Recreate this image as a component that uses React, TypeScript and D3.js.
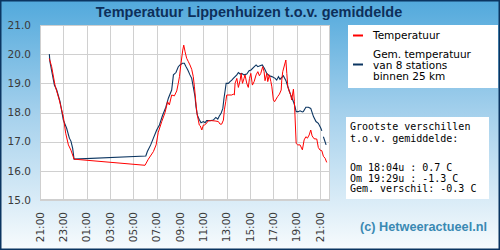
import React, { useEffect, useRef } from 'react';
import * as d3 from 'd3';

// Local station temperature (clock time, °C); null marks a break in the line
const tempTimes = [
  '21:48', '22:00', '22:17', '22:39', '23:00', '23:12', '23:26', '23:39', '23:51', '23:55',
  '06:00', '06:17', '06:43', '06:57', '07:08', '07:26', '07:43', '07:56', '08:05', '08:17',
  '08:31', '08:43', '08:51', '08:57', '09:05', '09:14', '09:19', '09:26', '09:34', '09:43',
  '09:51', '10:00', '10:08', '10:14', '10:21', '10:27', '10:34', '10:39', '10:44', '10:52',
  '11:00', '11:05', '11:12', '11:26', '11:43', '12:00', '12:17', '12:26', '12:34', '12:43',
  '12:48', '12:55', '13:00', '13:26', '13:34', '13:39', '13:43', '13:52', '14:00', '14:09',
  '14:14', '14:21', '14:29', '14:34', '14:43', '14:51', '14:57', '15:04', '15:12', '15:21',
  '15:31', '15:40', '15:48', '15:55', '16:05', '16:12', '16:17', '16:26', '16:31', '16:39',
  '16:47', '16:52', '17:00', '17:06', '17:21', '17:31', '17:40', '17:43', '17:48', '18:04',
  '18:09', '18:14', '18:22', '18:29', '18:34', '18:43', '18:48', '18:57', '19:05', '19:17',
  '19:29', '19:38', '19:47', '19:55', '20:04', '20:12', '20:19', '20:29', '20:43', '20:51',
  '21:00', '21:09', '21:17', '21:26', '21:34',
];
const tempValues = [
  19.85, 19.57, 18.94, 18.43, 17.86, 17.29, 16.89, 16.71, 16.48, 16.4,
  16.19, 16.4, 16.66, 16.89, 17.32, 17.69, 18.0, 18.37, 18.26, 18.6,
  18.57, 18.74, 19.0, 19.23, 19.69, 20.14, 20.31, 20.08, 19.86, 19.74,
  19.63, 19.48, 19.23, 18.88, 18.37, 17.97, 17.74, 17.57, 17.54, 17.4,
  17.57, 17.57, 17.6, 17.72, 17.72, 17.71, 17.69, 17.6, 17.6, 17.74,
  18.09, 18.37, 18.6, 18.6, 18.63, 18.6, 19.0, 19.17, 18.86, 19.11,
  19.34, 19.0, 19.17, 19.29, 19.0, 18.86, 19.17, 19.34, 18.94, 19.06,
  19.29, 19.4, 19.26, 19.34, 19.57, 19.4, 19.09, 19.34, 19.06, 19.29,
  19.06, 18.88, 18.43, 18.37, 18.54, 18.63, 18.77, 19.11, 19.4, 19.8,
  19.34, 18.88, 18.71, 18.6, 18.43, 18.8, 18.37, 16.94, 16.89, 16.89,
  16.72, 17.06, 17.17, 17.12, 17.23, 17.4, 17.2, 17.1, 17.09, 16.8,
  16.71, 16.69, 16.5, 16.43, 16.29,
];

// Mean of 8 stations within 25 km
const meanTimes = [
  '21:48', '21:51', '22:14', '22:26', '22:43', '23:00', '23:17', '23:31', '23:39', '23:48',
  '23:55', '06:04', '06:12', '06:29', '06:43', '07:00', '07:14', '07:29', '07:47', '08:00',
  '08:17', '08:26', '08:39', '08:51', '09:00', '09:12', '09:22', '09:31', '09:40', '09:51',
  '10:00', '10:08', '10:17', '10:22', '10:29', '10:38', '10:48', '11:00', '11:09', '11:17',
  '11:34', '11:51', '12:04', '12:14', '12:22', '12:31', '12:40', '12:46', '12:51', '12:57',
  '13:08', '13:17', '13:26', '13:34', '13:52', '14:00', '14:09', '14:17', '14:29', '14:43',
  '14:55', '15:05', '15:22', '15:31', '15:40', '15:51', '16:03', '16:14', '16:26', '16:39',
  '16:52', '17:09', '17:17', '17:26', '17:34', '17:43', '17:51', '18:04', '18:17', '18:29',
  '18:43', '18:51', '18:57', '19:08', '19:17', '19:29', '19:34', '19:47', '20:00', '20:12',
  '20:26', '20:39', '20:51', '21:04', '21:09', '21:13', '21:17', '21:31',
];
const meanValues: (number | null)[] = [
  20.0, 19.74, 18.94, 18.77, 18.37, 17.74, 17.46, 17.12, 17.02, 16.77,
  16.4, 16.51, 16.66, 16.89, 17.12, 17.4, 17.57, 17.88, 18.18, 18.49,
  18.77, 19.29, 19.37, 19.57, 19.63, 19.69, 19.69, 19.57, 19.46, 19.29,
  19.17, 18.88, 18.54, 18.2, 17.91, 17.77, 17.65, 17.69, 17.65, 17.72,
  17.72, 17.74, 17.83, 17.77, 17.88, 17.97, 18.14, 18.49, 18.71, 19.0,
  19.0, 19.06, 19.11, 19.17, 19.29, 19.37, 19.32, 19.34, 19.29, 19.32,
  19.43, 19.46, 19.57, 19.63, 19.57, 19.6, 19.63, 19.51, 19.34, 19.26,
  19.23, 19.17, 19.11, 19.23, 19.14, 19.2, 19.26, 19.1, 18.83, 18.6,
  18.37, 18.2, 18.03, 18.03, 18.06, 18.02, 18.03, 18.18, 18.18, 18.14,
  17.86, 17.69, 17.63, 17.46, 17.37, null, 17.17, 16.89,
];

const yTicks = [15, 16, 17, 18, 19, 20, 21];
const xTickLabels = ['21:00', '23:00', '01:00', '03:00', '05:00', '07:00', '09:00', '11:00', '13:00', '15:00', '17:00', '19:00', '21:00'];

const legendMean = ['Gem. temperatuur', 'van 8 stations', 'binnen 25 km'];

const infoLines = [
  'Grootste verschillen',
  't.o.v. gemiddelde:',
  'Om 18:04u : 0.7 C',
  'Om 19:29u : -1.3 C',
  'Gem. verschil: -0.3 C',
];

const W = 500;
const H = 250;
const START = new Date(2024, 5, 1, 21, 0);

// turn clock times into dates, rolling over to the next day after midnight
function toDates(times: string[]): Date[] {
  let day = 0;
  let prev = -1;
  return times.map(t => {
    const [h, m] = t.split(':').map(Number);
    const mins = h * 60 + m;
    if (prev >= 0 && mins < prev) day += 1;
    prev = mins;
    return new Date(2024, 5, 1 + day, h, m);
  });
}

const App: React.FC = () => {
  const ref = useRef<SVGSVGElement>(null);

  useEffect(() => {
    const svg = d3.select(ref.current);
    svg.selectAll('*').remove();

    const m = { left: 40, top: 25, right: 330, bottom: 200 };

    const defs = svg.append('defs');
    const grad = defs.append('linearGradient')
      .attr('id', 'bg').attr('x1', 0).attr('y1', 0).attr('x2', 0).attr('y2', 1);
    grad.append('stop').attr('offset', '0%').attr('stop-color', '#52a9dc');
    grad.append('stop').attr('offset', '45%').attr('stop-color', '#a4d0ec');
    grad.append('stop').attr('offset', '100%').attr('stop-color', '#f7fbfd');

    svg.append('rect')
      .attr('x', 0.75).attr('y', 0.75).attr('width', W - 1.5).attr('height', H - 1.5)
      .attr('fill', 'url(#bg)').attr('stroke', '#0b3561').attr('stroke-width', 1.5);

    svg.append('text')
      .attr('x', 249).attr('y', 16.5)
      .attr('text-anchor', 'middle')
      .attr('font-family', '"Liberation Sans", Arial, sans-serif')
      .attr('font-weight', 'bold').attr('font-size', 14.5)
      .attr('fill', '#0d2f5a')
      .text('Temperatuur Lippenhuizen t.o.v. gemiddelde');

    const end = new Date(START.getTime() + (24 * 60 + 51) * 60000);
    const x = d3.scaleTime().domain([START, end]).range([m.left, m.right]);
    const y = d3.scaleLinear().domain([15, 21]).range([m.bottom, m.top]);

    svg.append('rect')
      .attr('x', m.left).attr('y', m.top)
      .attr('width', m.right - m.left).attr('height', m.bottom - m.top)
      .attr('fill', '#fff');

    const tickDates = xTickLabels.map((_, i) => new Date(START.getTime() + i * 2 * 3600000));

    const grid = svg.append('g').attr('stroke', '#d0d0d0').attr('stroke-width', 1);
    grid.selectAll('.vx').data(tickDates).enter().append('line')
      .attr('x1', d => Math.round(x(d)) + 0.5).attr('x2', d => Math.round(x(d)) + 0.5)
      .attr('y1', m.top).attr('y2', m.bottom);
    grid.selectAll('.hy').data(yTicks).enter().append('line')
      .attr('x1', m.left).attr('x2', m.right)
      .attr('y1', d => Math.round(y(d)) + 0.5).attr('y2', d => Math.round(y(d)) + 0.5);

    svg.append('rect')
      .attr('x', m.left + 0.5).attr('y', m.top + 0.5)
      .attr('width', m.right - m.left - 1).attr('height', m.bottom - m.top - 1)
      .attr('fill', 'none').attr('stroke', '#cfcfcf');

    svg.append('g').selectAll('text').data(yTicks).enter().append('text')
      .attr('x', 31).attr('y', d => y(d)).attr('dy', '0.35em')
      .attr('text-anchor', 'end')
      .attr('font-family', '"DejaVu Sans", sans-serif').attr('font-size', 10.5)
      .attr('fill', '#3a3a3a')
      .text(d => d3.format('.1f')(d));

    svg.append('g').selectAll('text').data(tickDates).enter().append('text')
      .attr('transform', d => `translate(${x(d)},212) rotate(-90)`)
      .attr('dy', '0.35em')
      .attr('text-anchor', 'end')
      .attr('font-family', '"DejaVu Sans", sans-serif').attr('font-size', 10.5)
      .attr('fill', '#3a3a3a')
      .text((_, i) => xTickLabels[i]);

    type Pt = { t: Date; v: number | null };
    const tempData: Pt[] = toDates(tempTimes).map((t, i) => ({ t, v: tempValues[i] }));
    const meanData: Pt[] = toDates(meanTimes).map((t, i) => ({ t, v: meanValues[i] }));

    const line = d3.line<Pt>()
      .defined(d => d.v !== null)
      .x(d => x(d.t))
      .y(d => y(d.v as number));

    svg.append('path').datum(meanData)
      .attr('d', line).attr('fill', 'none')
      .attr('stroke', '#0b3561').attr('stroke-width', 1.1);
    svg.append('path').datum(tempData)
      .attr('d', line).attr('fill', 'none')
      .attr('stroke', '#ff0000').attr('stroke-width', 1);

    // legend
    const lg = svg.append('g').attr('font-family', '"DejaVu Sans", sans-serif').attr('font-size', 10.5).attr('fill', '#000');
    lg.append('rect').attr('x', 348).attr('y', 25).attr('width', 150).attr('height', 63).attr('fill', '#fff');
    lg.append('line').attr('x1', 353).attr('x2', 363).attr('y1', 35.5).attr('y2', 35.5)
      .attr('stroke', '#ff0000').attr('stroke-width', 2);
    lg.append('text').attr('x', 373).attr('y', 39).text('Temperatuur');
    lg.append('line').attr('x1', 353).attr('x2', 363).attr('y1', 64.5).attr('y2', 64.5)
      .attr('stroke', '#0b3561').attr('stroke-width', 2);
    legendMean.forEach((s, i) => {
      lg.append('text').attr('x', 373).attr('y', 58 + i * 10.8).text(s);
    });

    // info box
    const ib = svg.append('g').attr('font-family', '"DejaVu Sans Mono", monospace').attr('font-size', 10).attr('fill', '#000');
    ib.append('rect').attr('x', 346).attr('y', 117).attr('width', 143).attr('height', 82).attr('fill', '#fff');
    const baselines = [130, 141.5, 171, 181.5, 192];
    infoLines.forEach((s, i) => {
      ib.append('text').attr('x', 350).attr('y', baselines[i]).attr('xml:space', 'preserve').text(s);
    });

    svg.append('text')
      .attr('x', 487).attr('y', 230.5)
      .attr('text-anchor', 'end')
      .attr('font-family', '"Liberation Sans", Arial, sans-serif')
      .attr('font-weight', 'bold').attr('font-size', 12.7)
      .attr('fill', '#3a89b3')
      .text('(c) Hetweeractueel.nl');
  }, []);

  return (
    <svg ref={ref} width={W} height={H}
      style={{ position: 'absolute', left: 0, top: 0, display: 'block' }} />
  );
};

export default App;
